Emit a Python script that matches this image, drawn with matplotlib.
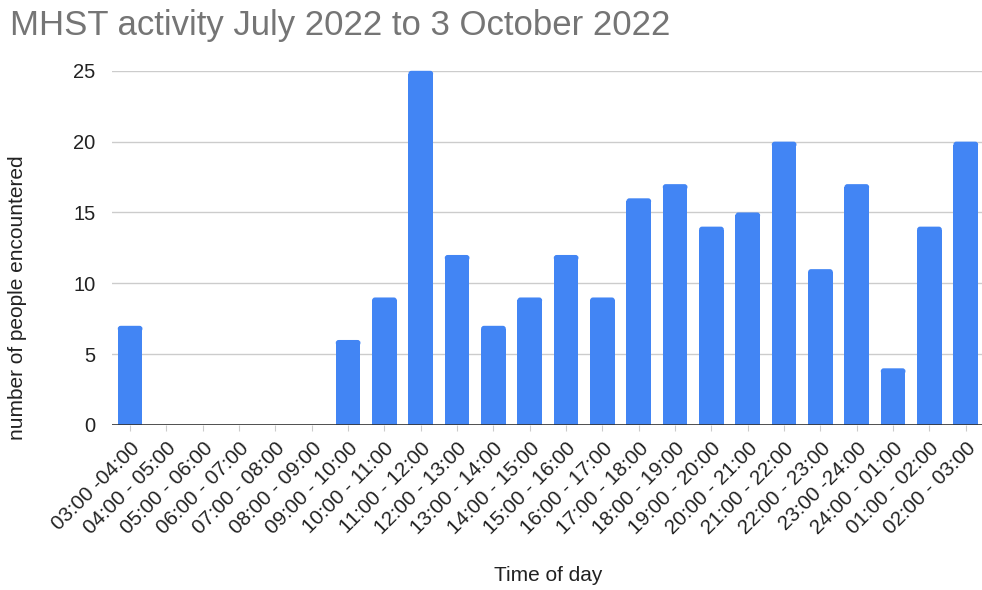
import matplotlib
matplotlib.use('Agg')
import matplotlib.pyplot as plt
from matplotlib.patches import FancyBboxPatch

plt.rcParams['font.family'] = ['Liberation Sans', 'DejaVu Sans']

# data
slots = ['03:00 -04:00', '04:00 - 05:00', '05:00 - 06:00', '06:00 - 07:00',
         '07:00 - 08:00', '08:00 - 09:00', '09:00 - 10:00', '10:00 - 11:00',
         '11:00 - 12:00', '12:00 - 13:00', '13:00 - 14:00', '14:00 - 15:00',
         '15:00 - 16:00', '16:00 - 17:00', '17:00 - 18:00', '18:00 - 19:00',
         '19:00 - 20:00', '20:00 - 21:00', '21:00 - 22:00', '22:00 - 23:00',
         '23:00 -24:00', '24:00 - 01:00', '01:00 - 02:00', '02:00 - 03:00']
people = [7, 0, 0, 0, 0, 0, 6, 9, 25, 12, 7, 9, 12, 9, 16, 17, 14, 15, 20, 11,
          17, 4, 14, 20]
y_ticks = [0, 5, 10, 15, 20, 25]

BLUE = '#4285F4'
fig = plt.figure(figsize=(9.82, 5.90), dpi=100)
ax = fig.add_axes([0.114, 0.2797, 0.888, 0.6003])

x = range(len(slots))
w = 0.68
bars = ax.bar(x, people, width=w, color=BLUE, zorder=3)

ax.set_xlim(-0.5, len(slots) - 0.5)
ax.set_ylim(0, 25)

# round top corners (~3 px)
rx = 0.08
aspect = 36.35 / 14.16
ry = rx * aspect
for b, h in zip(bars, people):
    if h <= 0:
        continue
    b.set_height(h - ry)
    ax.add_patch(FancyBboxPatch((b.get_x(), h - 2 * ry), w, 2 * ry,
                                boxstyle='round,pad=0,rounding_size=%g' % rx,
                                mutation_aspect=aspect, fc=BLUE, ec='none',
                                zorder=3, clip_on=False))

ax.set_yticks(y_ticks)
ax.grid(axis='y', color='#cccccc', lw=1, zorder=0)
ax.axhline(0, color='#333333', lw=1.2, zorder=4)

for sp in ax.spines.values():
    sp.set_visible(False)
ax.tick_params(axis='y', length=0, labelsize=14.5, colors='#222222', pad=12)
ax.tick_params(axis='x', length=4, color='#cccccc', labelsize=14.8,
               labelcolor='#222222', pad=6)
ax.set_xticks(list(x))
ax.set_xticklabels(slots, rotation=45, ha='right', rotation_mode='anchor')

ax.set_ylabel('number of people encountered', fontsize=15, color='#222222',
              va='center')
ax.yaxis.set_label_coords(-0.108, 0.36)
ax.set_xlabel('Time of day', fontsize=15, color='#222222', va='center')
ax.xaxis.set_label_coords(0.5, -(575 - 425) / 354)

fig.text(0.010, 0.985, 'MHST activity July 2022 to 3 October 2022',
         ha='left', va='top', fontsize=25, color='#757575')

fig.savefig('out.png', dpi=100, facecolor='white')
